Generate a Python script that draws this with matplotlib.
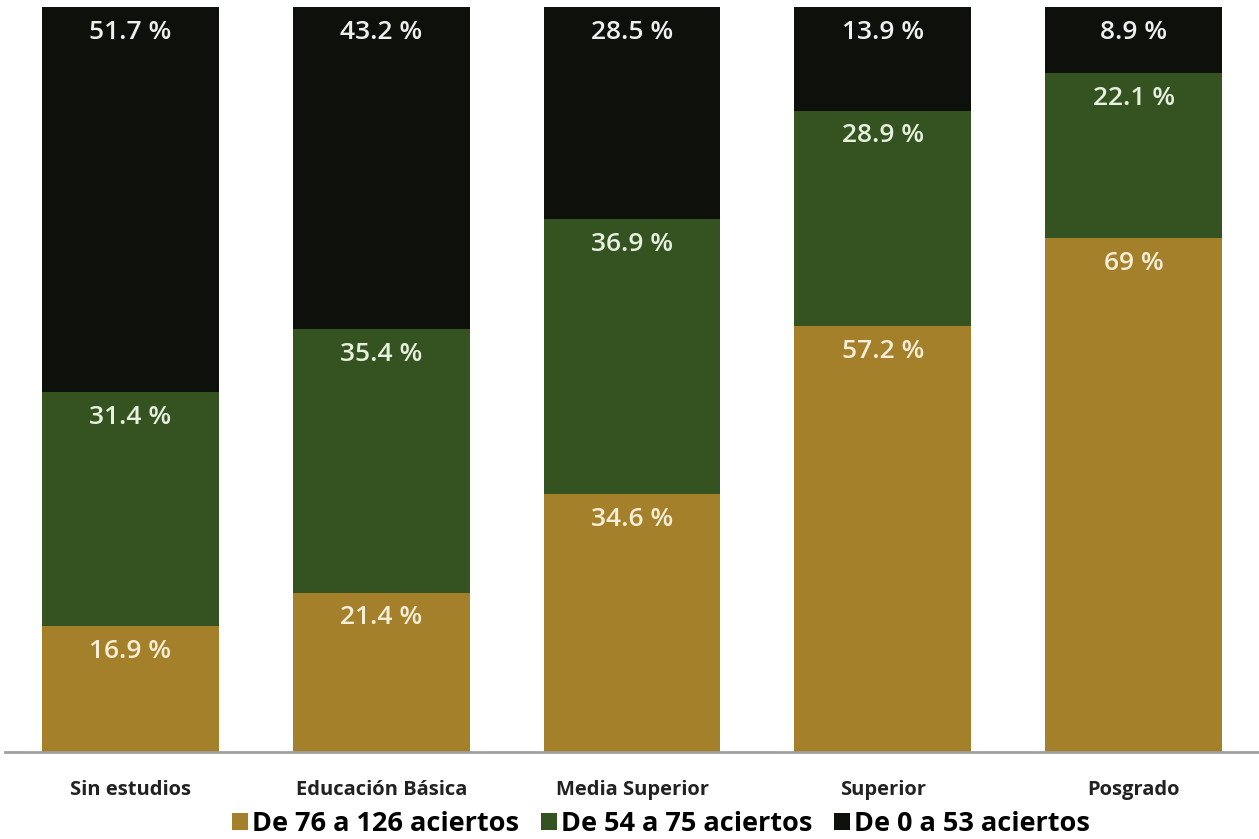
import numpy as np
import matplotlib.pyplot as plt
from matplotlib.patches import Patch

plt.rcParams['font.family'] = ['Open Sans', 'DejaVu Sans']

categorias = ['Sin estudios', 'Educación Básica', 'Media Superior', 'Superior', 'Posgrado']
alto = [16.9, 21.4, 34.6, 57.2, 69.0]      # De 76 a 126 aciertos
medio = [31.4, 35.4, 36.9, 28.9, 22.1]     # De 54 a 75 aciertos
bajo = [51.7, 43.2, 28.5, 13.9, 8.9]       # De 0 a 53 aciertos
etiquetas_alto = ['16.9 %', '21.4 %', '34.6 %', '57.2 %', '69 %']
etiquetas_medio = ['31.4 %', '35.4 %', '36.9 %', '28.9 %', '22.1 %']
etiquetas_bajo = ['51.7 %', '43.2 %', '28.5 %', '13.9 %', '8.9 %']
series = ['De 76 a 126 aciertos', 'De 54 a 75 aciertos', 'De 0 a 53 aciertos']

colores = ['#A5802A', '#355320', '#0D100B']
color_texto = ['#F6EED8', '#E8F0E0', '#F0F0F0']

fig = plt.figure(figsize=(12.59, 8.39), dpi=100)
ax = fig.add_axes([5 / 1259, 1 - 752 / 839, 1 - 5 / 1259, 745 / 839])

x = np.arange(len(categorias))
ancho = 0.705
base = np.zeros(len(categorias))
for vals, etiq, col, ct in zip([alto, medio, bajo],
                               [etiquetas_alto, etiquetas_medio, etiquetas_bajo],
                               colores, color_texto):
    vals = np.array(vals)
    ax.bar(x, vals, ancho, bottom=base, color=col, edgecolor='none')
    for xi, b, v, t in zip(x, base, vals, etiq):
        ax.text(xi, b + v - 3.4, t, ha='center', va='center', color=ct,
                fontsize=19, fontweight='semibold')
    base = base + vals

ax.set_xlim(-0.5, 4.5)
ax.set_ylim(0, 100)
ax.set_yticks([])
ax.set_xticks(x)
ax.set_xticklabels(categorias, fontsize=14.5, fontweight='bold', color='#222222')
ax.tick_params(axis='x', length=0, pad=20)
for s in ['top', 'left', 'right']:
    ax.spines[s].set_visible(False)
ax.spines['bottom'].set_color('#A0A0A0')
ax.spines['bottom'].set_linewidth(2)

handles = [Patch(facecolor=c, edgecolor='none') for c in colores]
fig.legend(handles, series, loc='center', bbox_to_anchor=(661 / 1259, 1 - 824 / 839),
           ncol=3, frameon=False, prop={'weight': 'bold', 'size': 19.5},
           handlelength=0.6, handleheight=0.6, handletextpad=0.15, columnspacing=0.8)

fig.savefig('out.png', dpi=100)
